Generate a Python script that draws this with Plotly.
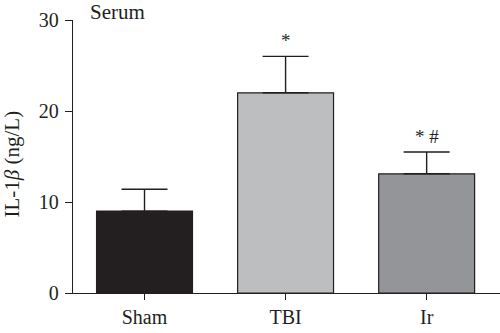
import plotly.graph_objects as go

# Serum IL-1β levels per group (mean and upper SD)
groups = ["Sham", "TBI", "Ir"]
means = [9.0, 22.0, 13.1]
sd_upper = [2.4, 4.0, 2.4]
bar_colors = ["#231f20", "#bcbec0", "#939598"]
marks = ["", "*", "* #"]
y_ticks = [0, 10, 20, 30]

ink = "#231f20"
serif = "Liberation Serif, Times New Roman, serif"

fig = go.Figure()
fig.add_trace(go.Bar(
    x=groups,
    y=means,
    width=0.68,
    marker=dict(color=bar_colors, line=dict(color=ink, width=1.2)),
    error_y=dict(type="data", symmetric=False, array=sd_upper,
                 arrayminus=[0] * len(means), color=ink, thickness=1.4, width=23),
    showlegend=False,
))

# significance markers above the error bars
for g, m, s, t in zip(groups, means, sd_upper, marks):
    if t:
        fig.add_annotation(x=g, y=m + s, text=t, showarrow=False,
                           yanchor="bottom", yshift=3,
                           font=dict(family=serif, size=19, color=ink))

fig.add_annotation(xref="paper", yref="paper", x=0.035, y=1.0, text="Serum",
                   showarrow=False, xanchor="left", yanchor="middle", yshift=8,
                   font=dict(family=serif, size=21, color=ink))

fig.add_annotation(xref="paper", yref="paper", x=0, y=0.5,
                   text="IL-1<i>β</i> (ng/L)", textangle=-90, showarrow=False,
                   xanchor="center", yanchor="middle", xshift=-62, yshift=-8,
                   font=dict(family=serif, size=21, color=ink))

fig.update_layout(
    width=500, height=333,
    margin=dict(l=73, r=0, t=20, b=40),
    plot_bgcolor="white", paper_bgcolor="white",
    font=dict(family=serif, size=20, color=ink),
    xaxis=dict(range=[-0.507, 2.52], showline=True, linecolor=ink, linewidth=1.3,
               ticks="outside", ticklen=6, tickwidth=1.3, tickcolor=ink,
               showgrid=False, zeroline=False, fixedrange=True),
    yaxis=dict(range=[0, 30], tickvals=y_ticks, showline=True, linecolor=ink,
               linewidth=1.3, ticks="outside", ticklen=7, tickwidth=1.3,
               tickcolor=ink, showgrid=False, zeroline=False, ticklabelstandoff=2),
    bargap=0.32,
)

fig.write_html("out.html")
